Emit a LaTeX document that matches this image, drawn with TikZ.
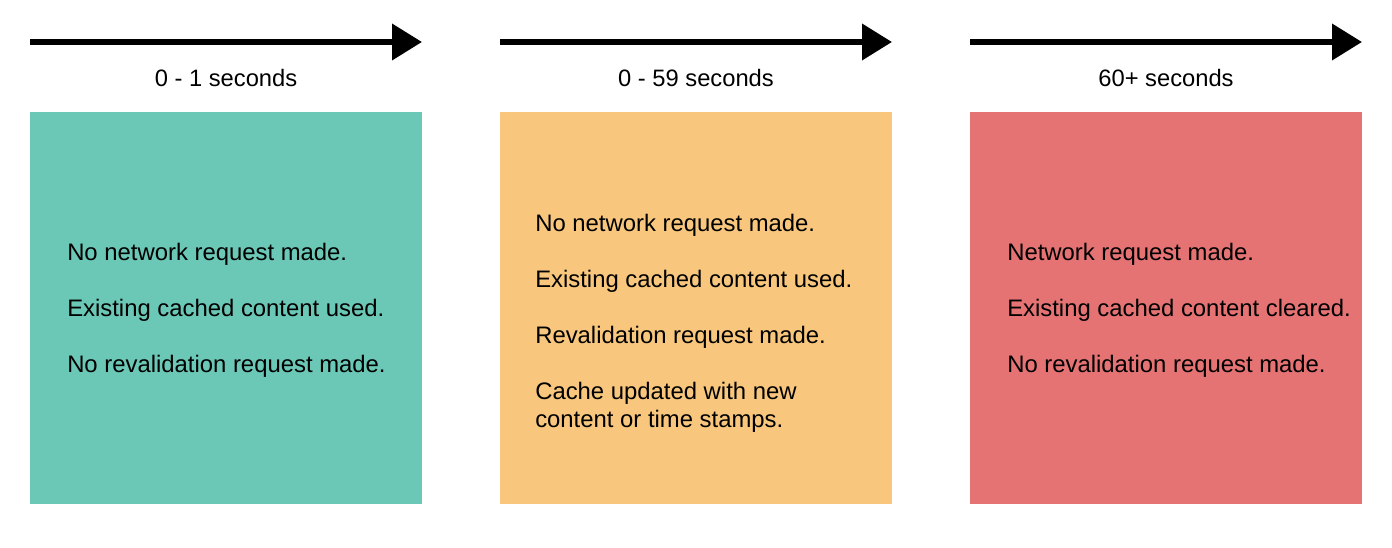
\documentclass[tikz,border=0pt]{standalone}
\usepackage{fontspec}
\setmainfont{Liberation Sans}
\usetikzlibrary{arrows.meta}
\definecolor{cteal}{RGB}{107,200,182}
\definecolor{corange}{RGB}{248,199,125}
\definecolor{cred}{RGB}{229,115,115}
\begin{document}
\begin{tikzpicture}[x=0.75pt,y=-0.75pt,
  timearrow/.style={line width=4.5pt,-{Triangle[length=22.5pt,width=26.5pt]}},
  panel/.style={draw=none,inner sep=0pt,minimum width=294pt,minimum height=294pt,anchor=north west},
  lbl/.style={anchor=base,inner sep=0pt,font=\fontsize{17.8}{21}\selectfont},
  line/.style={anchor=base west,inner sep=0pt,font=\fontsize{17.9}{21}\selectfont}]
\useasboundingbox (0,0) rectangle (1392,548);
% arrows
\coordinate (a1s) at (30,42); \coordinate (a1e) at (422,42);
\coordinate (a2s) at (500,42); \coordinate (a2e) at (892,42);
\coordinate (a3s) at (970,42); \coordinate (a3e) at (1362,42);
\draw[timearrow] (a1s) -- (a1e);
\draw[timearrow] (a2s) -- (a2e);
\draw[timearrow] (a3s) -- (a3e);
% labels
\node[lbl] (l1) at (226,87) {0 - 1 seconds};
\node[lbl] (l2) at (696,87) {0 - 59 seconds};
\node[lbl] (l3) at (1166,87) {60+ seconds};
% panels
\node[panel,fill=cteal] (p1) at (30,112) {};
\node[panel,fill=corange] (p2) at (500,112) {};
\node[panel,fill=cred] (p3) at (970,112) {};
% panel 1 text
\node[line] (t11) at (67,261) {No network request made.};
\node[line] (t12) at (67,317) {Existing cached content used.};
\node[line] (t13) at (67,373) {No revalidation request made.};
% panel 2 text
\node[line] (t21) at (535,232) {No network request made.};
\node[line] (t22) at (535,288) {Existing cached content used.};
\node[line] (t23) at (535,344) {Revalidation request made.};
\node[line] (t24) at (535,400) {Cache updated with new};
\node[line] (t25) at (535,428) {content or time stamps.};
% panel 3 text
\node[line] (t31) at (1007,261) {Network request made.};
\node[line] (t32) at (1007,317) {Existing cached content cleared.};
\node[line] (t33) at (1007,373) {No revalidation request made.};
\end{tikzpicture}
\end{document}
